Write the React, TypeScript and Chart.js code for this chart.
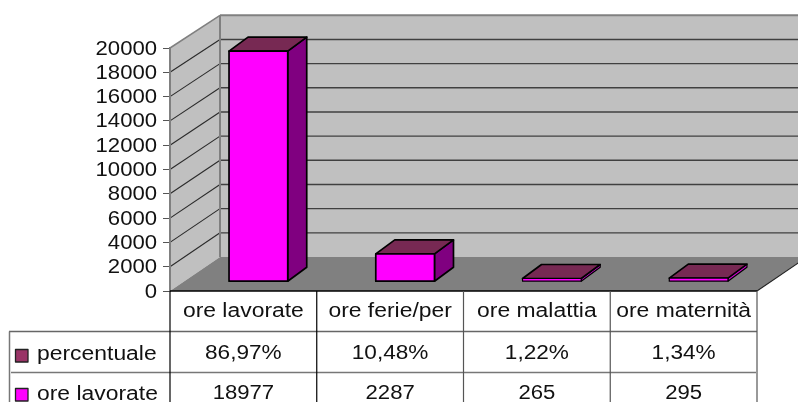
import React, { useEffect, useRef } from "react";
import { Chart, registerables } from "chart.js";

Chart.register(...registerables);

const categories = ["ore lavorate", "ore ferie/per", "ore malattia", "ore maternità"];
const seriesHoursName = "ore lavorate";
const seriesPercentName = "percentuale";
const hours = [18977, 2287, 265, 295];
const percent = [86.97, 10.48, 1.22, 1.34];
const hoursLabels = ["18977", "2287", "265", "295"];
const percentLabels = ["86,97%", "10,48%", "1,22%", "1,34%"];

const FONT = "20px 'Liberation Sans', Arial, sans-serif";
const SX_DIGITS = 1.105;
const SX_WORDS = 1.145;
const INK = "#111111";

const DX = 50, DY_TOP = -32.7, DY_FLOOR = -34;
const BAR_DX = 15, BAR_DY = -9.3, DEPTH_X = 19, DEPTH_Y = -14;

function text(ctx: CanvasRenderingContext2D, s: string, x: number, y: number, align: CanvasTextAlign, sx = SX_WORDS) {
  ctx.save();
  ctx.translate(x, y + 1);
  ctx.scale(sx, 1);
  ctx.font = FONT;
  ctx.fillStyle = INK;
  ctx.textAlign = align;
  ctx.textBaseline = "middle";
  ctx.fillText(s, 0, 0);
  ctx.restore();
}

function poly(ctx: CanvasRenderingContext2D, pts: number[][], fill?: string, stroke?: string, lw = 1) {
  ctx.beginPath();
  pts.forEach((p, i) => (i ? ctx.lineTo(p[0], p[1]) : ctx.moveTo(p[0], p[1])));
  ctx.closePath();
  if (fill) { ctx.fillStyle = fill; ctx.fill(); }
  if (stroke) { ctx.strokeStyle = stroke; ctx.lineWidth = lw; ctx.lineJoin = "round"; ctx.stroke(); }
}

function line(ctx: CanvasRenderingContext2D, x1: number, y1: number, x2: number, y2: number, color: string, lw = 1) {
  ctx.beginPath();
  ctx.moveTo(x1, y1);
  ctx.lineTo(x2, y2);
  ctx.strokeStyle = color;
  ctx.lineWidth = lw;
  ctx.stroke();
}

function barBox(chart: any, i: number) {
  const b = chart.getDatasetMeta(0).data[i];
  const u = chart.getDatasetMeta(1).data[i];
  const T = u.y + BAR_DY;
  const B = b.base + BAR_DY;
  return {
    L: b.x - b.width / 2 + BAR_DX,
    R: b.x + b.width / 2 + BAR_DX,
    T,
    B,
    edge: B - T < 8 ? 1.2 : 1.7,
  };
}

const scene3d = {
  id: "scene3d",
  beforeDraw(chart: any) {
    const ctx: CanvasRenderingContext2D = chart.ctx;
    const { left, right, top, bottom } = chart.chartArea;
    const y = chart.scales.y;
    const bx = left + DX, by0 = bottom + DY_FLOOR, byT = top + DY_TOP;
    const backY = (py: number) => by0 - ((bottom - py) * (by0 - byT)) / (bottom - top);
    ctx.save();
    poly(ctx, [[bx, byT], [right + DX, byT], [right + DX, by0], [bx, by0]], "#C0C0C0");
    poly(ctx, [[left, top], [bx, byT], [bx, by0], [left, bottom]], "#C0C0C0");
    y.ticks.forEach((t: any) => {
      const py = y.getPixelForValue(t.value);
      if (t.value === 0 || t.value === y.max) return;
      line(ctx, left, py, bx, backY(py), "#2a2a2a", 1.1);
      line(ctx, bx, backY(py), right + DX, backY(py), "#404040", 1.4);
    });
    poly(ctx, [[left, bottom], [right, bottom], [right + DX, by0], [bx, by0]], "#808080");
    line(ctx, right, bottom, right + DX, by0, "#222222", 1.1);
    line(ctx, left, top, bx, byT, "#808080", 1.5);
    line(ctx, bx, byT, right + DX, byT, "#808080", 2);
    line(ctx, bx, byT, bx, by0, "#808080", 2);
    ctx.restore();
  },
  beforeDatasetsDraw(chart: any) {
    const ctx: CanvasRenderingContext2D = chart.ctx;
    ctx.save();
    categories.forEach((_, i) => {
      const { L, R, T, B, edge } = barBox(chart, i);
      poly(ctx, [[R, T], [R + DEPTH_X, T + DEPTH_Y], [R + DEPTH_X, B + DEPTH_Y], [R, B]], edge < 1.5 ? "#D000D0" : "#800080", "#000000", edge);
      poly(ctx, [[L, T], [L + DEPTH_X, T + DEPTH_Y], [R + DEPTH_X, T + DEPTH_Y], [R, T]], "#772953", "#000000", 1.7);
    });
    ctx.restore();
  },
  beforeDatasetDraw(chart: any) {
    chart.ctx.save();
    chart.ctx.translate(BAR_DX, BAR_DY);
  },
  afterDatasetDraw(chart: any) {
    chart.ctx.restore();
  },
  afterDatasetsDraw(chart: any) {
    const ctx: CanvasRenderingContext2D = chart.ctx;
    ctx.save();
    categories.forEach((_, i) => {
      const { L, R, T, B, edge } = barBox(chart, i);
      poly(ctx, [[L, T], [R, T], [R, B], [L, B]], undefined, "#000000", edge);
    });
    ctx.restore();
  },
  afterDraw(chart: any) {
    const ctx: CanvasRenderingContext2D = chart.ctx;
    const { left, right, bottom } = chart.chartArea;
    const x = chart.scales.x;
    const y = chart.scales.y;
    const H = chart.height;
    y.ticks.forEach((t: any) => {
      text(ctx, String(t.value), 157, y.getPixelForValue(t.value), "right", SX_DIGITS);
    });
    const colEdges = categories.map((_, i) => left + (i * (right - left)) / categories.length);
    const row1 = 331.5, row2 = 372.5;
    line(ctx, left, bottom, right, bottom, "#000000", 1.5);
    line(ctx, 9, row1, right, row1, "#666666", 1.5);
    line(ctx, 11, row2, right - 1, row2, "#777777", 1.5);
    line(ctx, 9.5, row1, 9.5, H, "#777777", 1.5);
    line(ctx, left, bottom, left, H, "#000000", 1.2);
    colEdges.slice(1).forEach((cx, i) => line(ctx, cx, bottom, cx, H, i === 0 ? "#000000" : "#555555", 1.2));
    line(ctx, right, bottom, right, H, "#555555", 1.2);
    categories.forEach((c, i) => {
      const cx = x.getPixelForValue(i);
      text(ctx, c, cx, 310, "center");
      text(ctx, percentLabels[i], cx, 352, "center", 1.13);
      text(ctx, hoursLabels[i], cx, 392, "center", SX_DIGITS);
    });
    poly(ctx, [[15.5, 349.5], [28, 349.5], [28, 362], [15.5, 362]], "#993366", "#222222", 1.3);
    poly(ctx, [[15.5, 388.5], [28, 388.5], [28, 401], [15.5, 401]], "#FF00FF", "#222222", 1.3);
    text(ctx, seriesPercentName, 37, 353, "left");
    text(ctx, seriesHoursName, 37, 393, "left");
  },
};

export default function App() {
  const ref = useRef<HTMLCanvasElement>(null);
  useEffect(() => {
    document.body.style.margin = "0";
    document.body.style.overflow = "hidden";
    const chart = new Chart(ref.current!, {
      type: "bar",
      data: {
        labels: categories,
        datasets: [
          { label: seriesHoursName, data: hours, backgroundColor: "#FF00FF", borderWidth: 0, clip: false },
          { label: seriesPercentName, data: percent.map((p) => p / 100), backgroundColor: "#993366", borderWidth: 0, clip: false },
        ],
      },
      options: {
        responsive: false,
        animation: false,
        devicePixelRatio: 1,
        layout: { padding: { left: 0, top: 48, right: 41, bottom: 111 } },
        plugins: { legend: { display: false }, tooltip: { enabled: false } },
        datasets: { bar: { categoryPercentage: 1, barPercentage: 0.4 } },
        scales: {
          x: { stacked: true, display: false },
          y: {
            stacked: true,
            min: 0,
            max: 20000,
            afterFit: (s: any) => { s.width = 170; },
            ticks: { display: false, stepSize: 2000 },
            grid: { display: true, drawOnChartArea: false, drawTicks: true, tickLength: 7, color: "#555555", lineWidth: 1 },
            border: { display: true, color: "#808080", width: 2 },
          },
        },
      },
      plugins: [scene3d],
    } as any);
    return () => chart.destroy();
  }, []);
  return <canvas ref={ref} width={798} height={402} style={{ display: "block", width: 798, height: 402 }} />;
}
